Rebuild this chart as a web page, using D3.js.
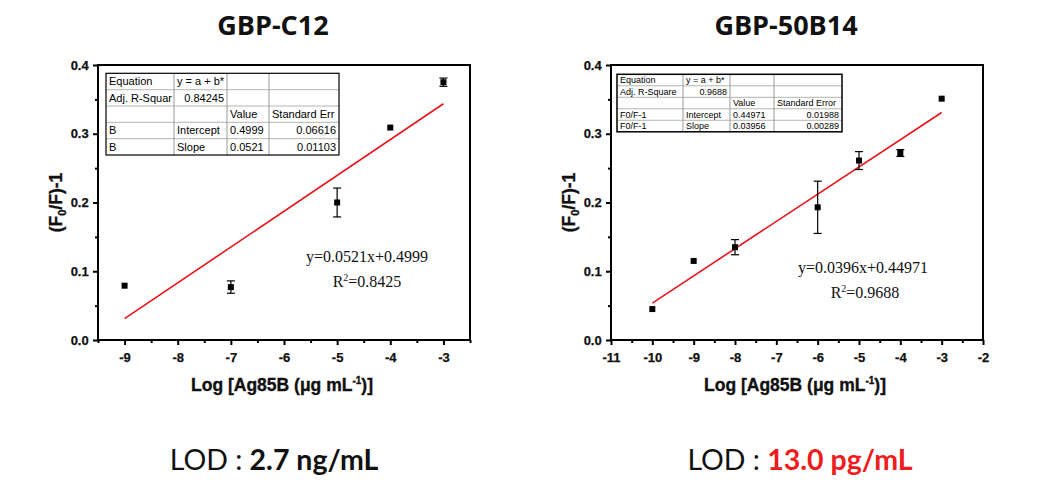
<!DOCTYPE html>
<html><head><meta charset="utf-8">
<script src="https://cdn.jsdelivr.net/npm/d3@7/dist/d3.min.js"></script>
<style>body{margin:0;background:#fff}svg{display:block}</style>
</head><body>
<svg id="c" width="1059" height="495"></svg>
<script>
// ---- data ----
const titles = ["GBP-C12", "GBP-50B14"];
const leftX = [-9, -7, -5, -4, -3];
const leftY = [0.079, 0.077, 0.200, 0.309, 0.375];
const leftErr = [0, 0.009, 0.021, 0, 0.006];
const leftFit = [[-9, 0.0310], [-3, 0.3436]];
const leftXTicks = [-9, -8, -7, -6, -5, -4, -3];
const rightX = [-10, -9, -8, -6, -5, -4, -3];
const rightY = [0.045, 0.115, 0.135, 0.193, 0.261, 0.272, 0.351];
const rightErr = [0.002, 0.002, 0.011, 0.038, 0.013, 0.005, 0.002];
const rightFit = [[-10, 0.0537], [-3, 0.3309]];
const rightXTicks = [-11, -10, -9, -8, -7, -6, -5, -4, -3, -2];
const yTicks = [0, 0.1, 0.2, 0.3, 0.4];
const leftTable = [
  ["Equation", "y = a + b*", "", ""],
  ["Adj. R-Squar", "0.84245", "", ""],
  ["", "", "Value", "Standard Err"],
  ["B", "Intercept", "0.4999", "0.06616"],
  ["B", "Slope", "0.0521", "0.01103"]
];
const rightTable = [
  ["Equation", "y = a + b*", "", ""],
  ["Adj. R-Square", "0.9688", "", ""],
  ["", "", "Value", "Standard Error"],
  ["F0/F-1", "Intercept", "0.44971", "0.01988"],
  ["F0/F-1", "Slope", "0.03956", "0.00289"]
];
const eqTexts = ["y=0.0521x+0.4999", "y=0.0396x+0.44971"];
const r2Texts = ["0.8425", "0.9688"];
const lodValues = ["2.7 ng/mL", "13.0 pg/mL"];

const svg = d3.select("#c");
const sans = "'Liberation Sans', Arial, sans-serif";

function panel(o) {
  const x = d3.scaleLinear().domain(o.xDomain).range([o.x0, o.x1]);
  const y = d3.scaleLinear().domain([0, 0.4]).range([o.y1, o.y0]);
  const g = svg.append("g");

  // title
  g.append("text").attr("x", o.titleX).attr("y", 35).attr("text-anchor", "middle")
    .attr("font-family", "'Open Sans', Lato, sans-serif").attr("font-weight", "bold")
    .attr("font-size", 27).attr("fill", "#111").text(o.title);

  // frame
  g.append("rect").attr("x", o.x0).attr("y", o.y0).attr("width", o.x1 - o.x0)
    .attr("height", o.y1 - o.y0).attr("fill", "none").attr("stroke", "#000").attr("stroke-width", 2);

  // minor ticks
  const xMinor = [];
  for (let i = 0; i < o.xTicks.length - 1; i++) xMinor.push((o.xTicks[i] + o.xTicks[i + 1]) / 2);
  if (o.xDomain[0] < o.xTicks[0]) xMinor.push(o.xTicks[0] - 0.5);
  if (o.xDomain[1] > o.xTicks[o.xTicks.length - 1]) xMinor.push(o.xTicks[o.xTicks.length - 1] + 0.5);
  const xAxis = d3.axisBottom(x).tickValues(o.xTicks).tickSize(5).tickSizeOuter(0).tickFormat(d => String(d));
  const xa = g.append("g").attr("transform", `translate(0,${o.y1})`).call(xAxis);
  const xm = g.append("g").attr("transform", `translate(0,${o.y1})`)
    .call(d3.axisBottom(x).tickValues(xMinor).tickSize(3).tickSizeOuter(0).tickFormat(""));
  const yAxis = d3.axisLeft(y).tickValues(yTicks).tickSize(5).tickSizeOuter(0).tickFormat(d3.format(".1f"));
  const ya = g.append("g").attr("transform", `translate(${o.x0},0)`).call(yAxis);
  const ym = g.append("g").attr("transform", `translate(${o.x0},0)`)
    .call(d3.axisLeft(y).tickValues([0.05, 0.15, 0.25, 0.35]).tickSize(3).tickSizeOuter(0).tickFormat(""));
  [xa, xm, ya, ym].forEach(a => {
    a.attr("font-family", null).attr("font-size", null);
    a.select(".domain").remove();
    a.selectAll("line").attr("stroke", "#000").attr("stroke-width", 2);
    a.selectAll("text").attr("font-family", sans).attr("font-weight", "bold")
      .attr("font-size", 13).attr("fill", "#111").attr("stroke", "#111").attr("stroke-width", 0.25);
  });
  xa.selectAll("text").attr("dy", "1.05em");
  ya.selectAll("text").attr("dx", "-0.1em");

  // axis labels
  const xl = g.append("text").attr("x", (o.x0 + o.x1) / 2 - 2).attr("y", 391).attr("text-anchor", "middle")
    .attr("font-family", sans).attr("font-weight", "bold").attr("font-size", 17.5).attr("fill", "#111")
    .attr("stroke", "#111").attr("stroke-width", 0.35);
  xl.append("tspan").text("Log [Ag85B (\u03bcg mL");
  xl.append("tspan").attr("font-size", 10).attr("dy", -7).text("-1");
  xl.append("tspan").attr("dy", 7).text(")]");
  const yl = g.append("text").attr("transform", `translate(${o.ylabX},${(o.y0 + o.y1) / 2}) rotate(-90)`)
    .attr("text-anchor", "middle").attr("font-family", sans).attr("font-weight", "bold")
    .attr("font-size", 17.5).attr("fill", "#111").attr("stroke", "#111").attr("stroke-width", 0.35);
  yl.append("tspan").text("(F");
  yl.append("tspan").attr("font-size", 11).attr("dy", 4).text("0");
  yl.append("tspan").attr("dy", -4).text("/F)-1");

  // fit line
  g.append("path").datum(o.fit)
    .attr("d", d3.line().x(d => x(d[0])).y(d => y(d[1])))
    .attr("stroke", "#e8141b").attr("stroke-width", 1.6).attr("fill", "none");

  // error bars
  const pts = o.xs.map((v, i) => ({ x: v, y: o.ys[i], e: o.errs[i] }));
  const eb = g.append("g").attr("stroke", "#000").attr("stroke-width", 1.2);
  pts.filter(p => p.e > 0.003).forEach(p => {
    const cx = x(p.x);
    eb.append("line").attr("x1", cx).attr("x2", cx).attr("y1", y(p.y - p.e)).attr("y2", y(p.y + p.e));
    eb.append("line").attr("x1", cx - 4).attr("x2", cx + 4).attr("y1", y(p.y - p.e)).attr("y2", y(p.y - p.e));
    eb.append("line").attr("x1", cx - 4).attr("x2", cx + 4).attr("y1", y(p.y + p.e)).attr("y2", y(p.y + p.e));
  });
  g.append("g").selectAll("rect").data(pts).join("rect")
    .attr("x", d => x(d.x) - 3).attr("y", d => y(d.y) - 3).attr("width", 6).attr("height", 6).attr("fill", "#000");

  // table
  const t = o.table;
  const tg = g.append("g");
  tg.append("rect").attr("x", t.cols[0]).attr("y", t.rows[0]).attr("width", t.cols[4] - t.cols[0])
    .attr("height", t.rows[5] - t.rows[0]).attr("fill", "#fff");
  for (let i = 1; i < 5; i++) tg.append("line").attr("x1", t.cols[0]).attr("x2", t.cols[4])
    .attr("y1", t.rows[i]).attr("y2", t.rows[i]).attr("stroke", "#b4b4b4").attr("stroke-width", 1);
  for (let j = 1; j < 4; j++) tg.append("line").attr("x1", t.cols[j]).attr("x2", t.cols[j])
    .attr("y1", t.rows[0]).attr("y2", t.rows[5]).attr("stroke", "#9a9a9a").attr("stroke-width", 1);
  tg.append("rect").attr("x", t.cols[0]).attr("y", t.rows[0]).attr("width", t.cols[4] - t.cols[0])
    .attr("height", t.rows[5] - t.rows[0]).attr("fill", "none").attr("stroke", "#000").attr("stroke-width", t.bw);
  t.data.forEach((row, i) => row.forEach((txt, j) => {
    if (!txt) return;
    const right = (i === 1 && j === 1) || (i >= 3 && j === 3);
    tg.append("text").attr("x", right ? t.cols[j + 1] - 3 : t.cols[j] + 3)
      .attr("y", (t.rows[i] + t.rows[i + 1]) / 2 + t.fs * 0.36)
      .attr("text-anchor", right ? "end" : "start").attr("font-family", sans)
      .attr("font-size", t.fs).attr("fill", "#000").text(txt);
  }));

  // equation text
  const serif = "'Liberation Serif', 'Times New Roman', serif";
  g.append("text").attr("x", o.eqX).attr("y", o.eqY).attr("text-anchor", "middle")
    .attr("font-family", serif).attr("font-size", 16).attr("fill", "#111").text(o.eq);
  const r = g.append("text").attr("x", o.eqX + o.r2dx).attr("y", o.eqY + 25).attr("text-anchor", "middle")
    .attr("font-family", serif).attr("font-size", 16).attr("fill", "#111");
  r.append("tspan").text("R");
  r.append("tspan").attr("font-size", 10).attr("dy", -6).text("2");
  r.append("tspan").attr("dy", 6).text("=" + o.r2);

  // LOD
  const lod = g.append("text").attr("x", o.lodX).attr("y", 470).attr("text-anchor", "middle")
    .attr("font-family", "Lato, 'Open Sans', sans-serif").attr("font-size", 28.5).attr("fill", "#111");
  lod.append("tspan").text("LOD : ");
  lod.append("tspan").attr("font-weight", "bold").attr("fill", o.lodColor).text(o.lod);
}

panel({
  title: titles[0], titleX: 273, lodX: 274, x0: 98, x1: 470, y0: 65, y1: 340, xDomain: [-9.5, -2.5],
  xTicks: leftXTicks, ylabX: 62, xs: leftX, ys: leftY, errs: leftErr, fit: leftFit,
  table: { cols: [106, 174, 227, 269, 339], rows: [73.3, 89.7, 106, 122.3, 138.7, 155], fs: 11, bw: 1.2, data: leftTable },
  eq: eqTexts[0], r2: r2Texts[0], eqX: 367, eqY: 262, r2dx: 0, lod: lodValues[0], lodColor: "#111"
});
panel({
  title: titles[1], titleX: 786, lodX: 800, x0: 611, x1: 983, y0: 65, y1: 340, xDomain: [-11, -2],
  xTicks: rightXTicks, ylabX: 575, xs: rightX, ys: rightY, errs: rightErr, fit: rightFit,
  table: { cols: [617, 683, 730, 774, 842], rows: [74.3, 85.8, 97.3, 108.8, 120.3, 131.8], fs: 9, bw: 1.5, data: rightTable },
  eq: eqTexts[1], r2: r2Texts[1], eqX: 863, eqY: 273, r2dx: 2, lod: lodValues[1], lodColor: "#ee1c1c"
});
</script>
</body></html>
